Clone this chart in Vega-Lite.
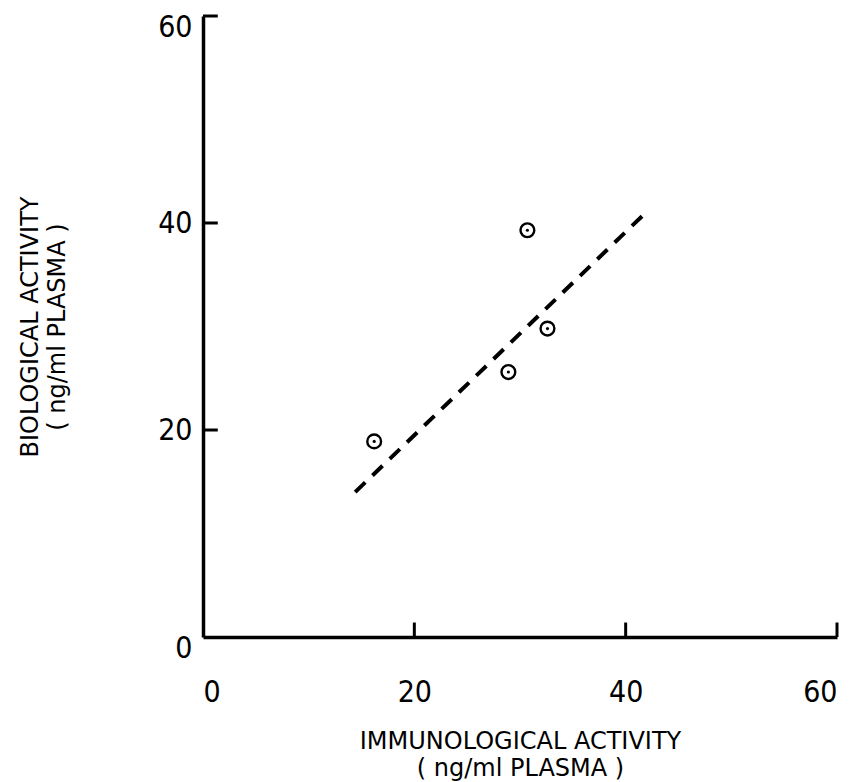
{
  "$schema": "https://vega.github.io/schema/vega-lite/v6.json",
  "width": 634,
  "height": 621,
  "autosize": {"type": "none"},
  "padding": {"left": 203, "top": 16, "right": 17, "bottom": 145},
  "background": "white",
  "config": {
    "view": {"stroke": null},
    "font": "DejaVu Sans Condensed, sans-serif",
    "axis": {
      "grid": false,
      "ticks": false,
      "domainColor": "black",
      "domainWidth": 3.5,
      "labelColor": "black",
      "labelFontSize": 30,
      "labelFont": "DejaVu Sans Condensed, sans-serif",
      "titleColor": "black",
      "titleFontSize": 24,
      "titleFontWeight": "normal",
      "titleLineHeight": 27,
      "titleFont": "DejaVu Sans, sans-serif"
    }
  },
  "datasets": {
    "samples": [
      {"immuno": 16.2, "bio": 18.9},
      {"immuno": 28.9, "bio": 25.6},
      {"immuno": 30.7, "bio": 39.3},
      {"immuno": 32.6, "bio": 29.8}
    ],
    "fit": [
      {"immuno": 14.4, "bio": 14.0},
      {"immuno": 41.9, "bio": 41.0}
    ],
    "ticks": [
      {"v": 20},
      {"v": 40},
      {"v": 60}
    ]
  },
  "layer": [
    {
      "data": {"name": "fit"},
      "mark": {"type": "line", "color": "black", "strokeWidth": 4, "strokeDash": [14, 10], "strokeCap": "butt"},
      "encoding": {
        "x": {
          "field": "immuno", "type": "quantitative",
          "scale": {"domain": [0, 60], "nice": false, "zero": false},
          "axis": {
            "values": [0, 20, 40, 60],
            "labelPadding": 40,
            "title": ["IMMUNOLOGICAL ACTIVITY", "( ng/ml PLASMA )"],
            "titlePadding": 22
          }
        },
        "y": {
          "field": "bio", "type": "quantitative",
          "scale": {"domain": [0, 60], "nice": false, "zero": false},
          "axis": {
            "values": [0, 20, 40, 60],
            "labelPadding": 11,
            "labelOffset": {"condition": {"test": "datum.value == 60 || datum.value == 0", "value": 11}, "value": 0},
            "title": ["BIOLOGICAL ACTIVITY", "( ng/ml PLASMA )"],
            "titlePadding": 88
          }
        }
      }
    },
    {
      "data": {"name": "ticks"},
      "mark": {"type": "rule", "color": "black", "strokeWidth": 3},
      "encoding": {
        "x": {"field": "v", "type": "quantitative"},
        "y": {"datum": 0, "type": "quantitative"},
        "y2": {"datum": 1.4}
      }
    },
    {
      "data": {"name": "ticks"},
      "mark": {"type": "rule", "color": "black", "strokeWidth": 3},
      "encoding": {
        "y": {"field": "v", "type": "quantitative"},
        "x": {"datum": 0, "type": "quantitative"},
        "x2": {"datum": 1.4}
      }
    },
    {
      "data": {"name": "samples"},
      "mark": {"type": "point", "shape": "circle", "filled": false, "color": "black", "opacity": 1, "size": 190, "strokeWidth": 2.4},
      "encoding": {
        "x": {"field": "immuno", "type": "quantitative"},
        "y": {"field": "bio", "type": "quantitative"}
      }
    },
    {
      "data": {"name": "samples"},
      "mark": {"type": "point", "shape": "circle", "filled": true, "color": "black", "size": 10, "opacity": 1},
      "encoding": {
        "x": {"field": "immuno", "type": "quantitative"},
        "y": {"field": "bio", "type": "quantitative"}
      }
    }
  ]
}
